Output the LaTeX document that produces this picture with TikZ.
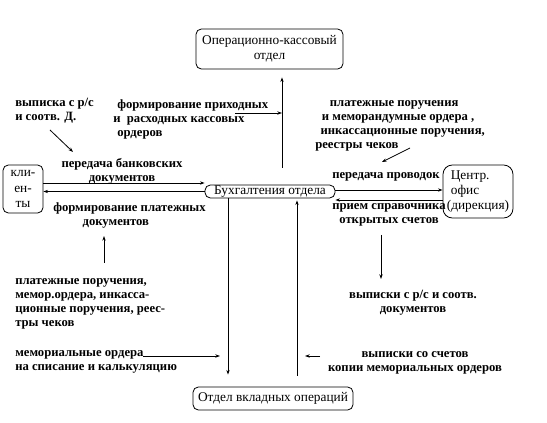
\documentclass[tikz,border=0pt]{standalone}
\usepackage{fontspec}
\setmainfont{Liberation Serif}
\usetikzlibrary{arrows.meta}
\begin{document}
\begin{tikzpicture}[x=0.75pt,y=-0.75pt,
  box/.style={draw, rounded corners=4pt, font=\fontsize{10}{11.5}\selectfont, inner sep=0pt, align=center, line width=0.6pt},
  lbl/.style={font=\bfseries\fontsize{9.5}{10.5}\selectfont, inner sep=0pt},
  arr/.style={-{Stealth[length=3.5pt,width=2.5pt]}, line width=0.6pt}]
\useasboundingbox (0,0) rectangle (547,423);
% boxes
\node[box, minimum width=110.25pt, minimum height=30pt] (okd) at (269.5,49) {Операционно-кассовый\\отдел};
\node[box, minimum width=97.5pt, minimum height=9.75pt] (buh) at (270,191.5) {Бухгалтения отдела};
\node[box, minimum width=30pt, minimum height=36pt, font=\fontsize{10}{11.6}\selectfont] (kl) at (23,189) {кли-\\ен-\\ты};
\node[box, minimum width=52.5pt, minimum height=39.75pt, rounded corners=7pt, align=left] (co) at (478,191.5) {\hspace*{3pt}Центр.\\\hspace*{3pt}офис\\(дирекция)};
\node[box, minimum width=120pt, minimum height=17.25pt] (ovo) at (273,398.5) {Отдел вкладных операций};
% labels
\node[lbl, anchor=west, align=left] (l1) at (15,111) {выписка с р/с\\и соотв. Д.};
\node[lbl, anchor=west, align=left] (l2) at (113,119) {\hspace*{3pt}формирование приходных\\и \ расходных кассовых\\\hspace*{3pt}ордеров};
\node[lbl, anchor=west, align=left] (l3) at (315,126) {\hspace*{11pt}платежные поручения\\\hspace*{5pt}и меморандумные ордера ,\\\hspace*{4pt}инкассационные поручения,\\реестры чеков};
\node[lbl, align=center] (l4) at (122,171) {передача банковских\\документов};
\node[lbl, anchor=west, align=left] (l5) at (53,215) {формирование платежных\\\hspace*{22pt}документов};
\node[lbl, anchor=west] (l6) at (332,177) {передача проводок};
\node[lbl, align=center] (l7) at (389,215) {прием справочника\\открытых счетов};
\node[lbl, anchor=west, align=left] (l8) at (15,304) {платежные поручения,\\мемор.ордера, инкасса-\\ционные поручения, реес-\\тры чеков};
\node[lbl, anchor=west, align=left] (l9) at (15,362) {мемориальные ордера\\на списание и калькуляцию};
\node[lbl, align=center] (l10) at (413,303) {выписки с р/с и соотв.\\документов};
\node[lbl, align=center] (l11) at (415,363) {выписки со счетов\\копии мемориальных ордеров};
% coordinates
\coordinate (vt) at (282,0);
\coordinate (v1) at (228,0);
\coordinate (v2) at (297,0);
\coordinate (h1s) at (235,113);
\coordinate (d1s) at (50,130);
\coordinate (d1e) at (73,152);
\coordinate (d2s) at (410,148);
\coordinate (d2e) at (382,162);
\coordinate (u1s) at (104,263);
\coordinate (u1e) at (104,236);
\coordinate (w1s) at (381,235);
\coordinate (w1e) at (381,279);
\coordinate (m1s) at (143,356);
\coordinate (m1e) at (220,356);
\coordinate (m2s) at (320,356);
\coordinate (m2e) at (305,356);
% connectors
\draw[arr] (kl.east |- 0,183) -- (buh.west |- 0,183);
\draw[arr] (buh.west) -- (buh.west -| kl.east);
\draw[arr] (buh.east |- 0,190) -- (co.west |- 0,190);
\draw[arr] (co.west |- 0,200) -- (buh.east |- 0,200);
\draw[arr, shorten <=12.75pt, shorten >=6pt] (buh.north -| vt) -- (okd.south -| vt);
\draw[arr] (h1s) -- (h1s -| vt);
\draw[arr] (d1s) -- (d1e);
\draw[arr] (d2s) -- (d2e);
\draw[arr, shorten >=9pt] (buh.south -| v1) -- (ovo.north -| v1);
\draw[arr, shorten <=8.25pt, shorten >=1.5pt] (ovo.north -| v2) -- (buh.south -| v2);
\draw[arr] (u1s) -- (u1e);
\draw[arr] (w1s) -- (w1e);
\draw[arr] (m1s) -- (m1e);
\draw[arr] (m2s) -- (m2e);
\end{tikzpicture}
\end{document}
